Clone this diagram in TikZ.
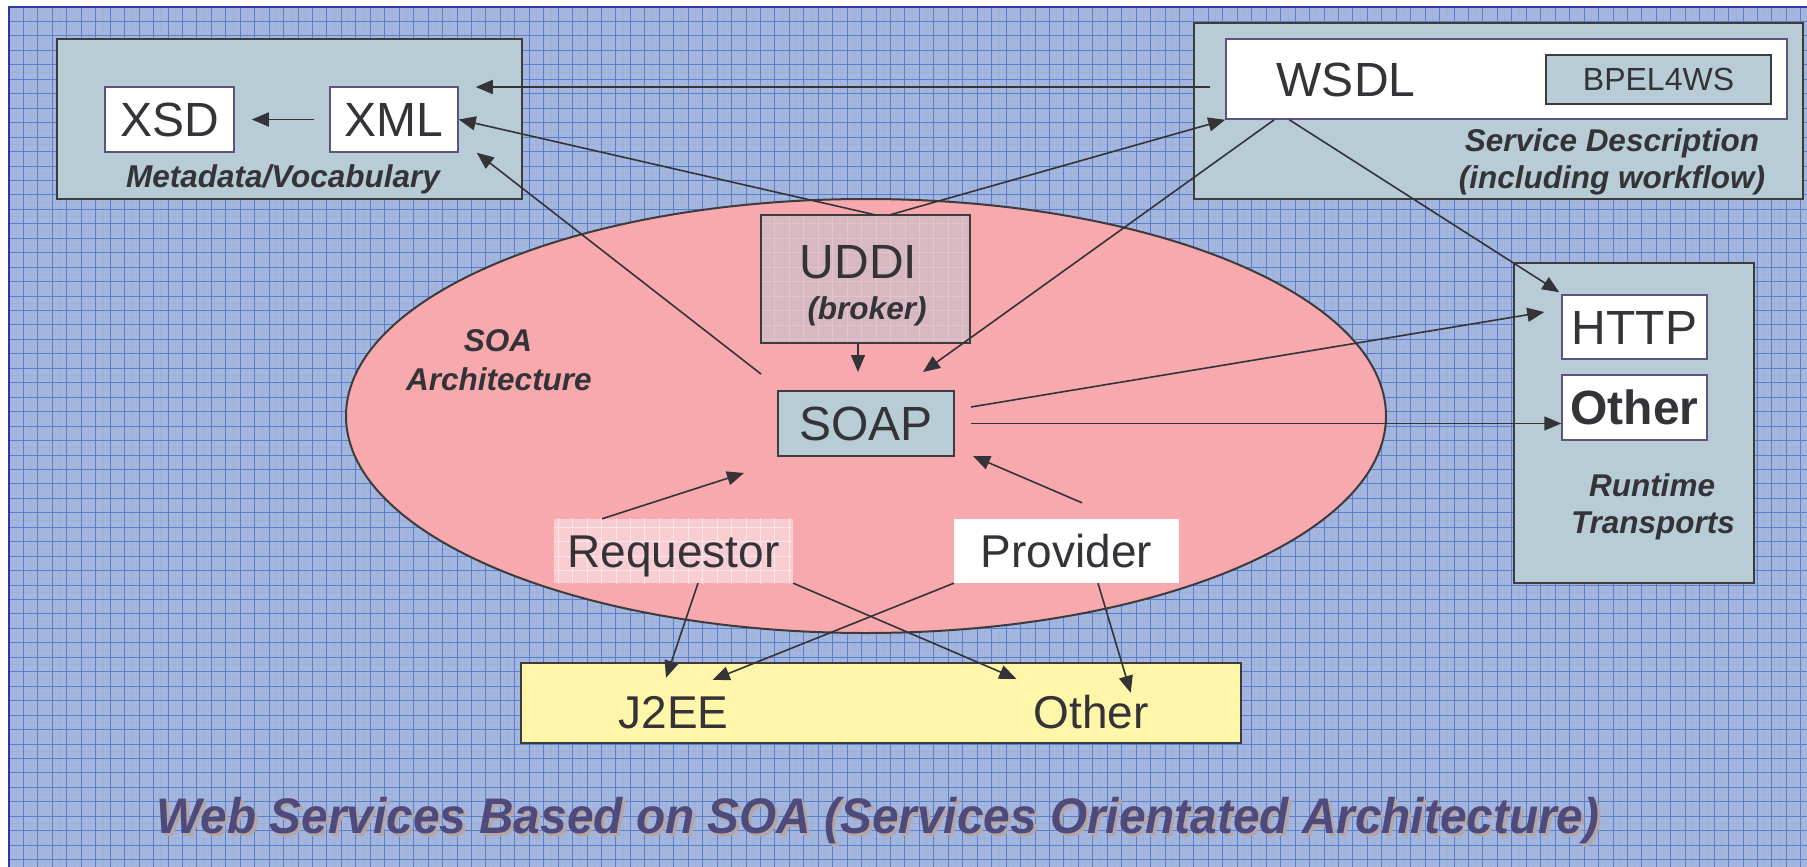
\documentclass[tikz,border=0pt]{standalone}
\usepackage{fontspec}
\setmainfont{Liberation Sans}
\usetikzlibrary{arrows.meta,shapes.geometric}
\definecolor{bgc}{HTML}{A4B6DE}
\definecolor{gridmaj}{HTML}{5A80CC}
\definecolor{gridmin}{HTML}{9DB1DC}
\definecolor{boxfill}{HTML}{B8CCD5}
\definecolor{boxline}{HTML}{3C3C3E}
\definecolor{wline}{HTML}{5C5480}
\definecolor{pinkc}{HTML}{F7A9AD}
\definecolor{uddic}{HTML}{D8B8C0}
\definecolor{uddig}{HTML}{DEC6CD}
\definecolor{reqc}{HTML}{F9CED3}
\definecolor{reqg}{HTML}{FCE6E9}
\definecolor{yellowc}{HTML}{FFF6AA}
\definecolor{txt}{HTML}{333338}
\definecolor{linec}{HTML}{333338}
\definecolor{titc}{HTML}{4F4A7C}
\definecolor{shadc}{HTML}{B4A6A6}
\definecolor{framec}{HTML}{3434A8}
\newcommand\bigf{\fontsize{48}{57}\selectfont}
\newcommand\midf{\fontsize{46}{55}\selectfont}
\newcommand\labf{\fontsize{31.5}{37}\selectfont\bfseries\itshape}
\newcommand\bpelf{\fontsize{32}{38}\selectfont}
\newcommand\titf{\fontsize{50}{60}\selectfont\bfseries\itshape}
\begin{document}
\begin{tikzpicture}[x=1pt,y=-1pt,
  gmaj/.style={draw=gridmaj, line width=0.9pt},
  gmin/.style={draw=gridmin, line width=0.5pt},
  cont/.style={draw=boxline, line width=2pt, fill=boxfill, inner sep=0pt},
  wbox/.style={draw=wline, line width=1.5pt, fill=white, inner sep=0pt, text=txt, text height=34pt, text depth=0pt, font=\bigf},
  plain/.style={inner sep=0pt, text=txt, text height=33pt, text depth=0pt, font=\midf},
  lab/.style={inner sep=0pt, anchor=base, text=txt, font=\labf},
  arr/.style={draw=linec, line width=1.6pt, -{Triangle[length=17pt,width=14pt]}},
  cline/.style={draw=linec, line width=1.6pt}]
\useasboundingbox (0,0) rectangle (1807,867);
% background
\fill[white] (0,0) rectangle (1807,867);
\fill[bgc] (9,7) rectangle (1807,867);
\foreach \i in {0,...,124} {\draw[gmin] ({9+14.45*\i+7.225},7) -- ({9+14.45*\i+7.225},867);}
\foreach \j in {0,...,59} {\draw[gmin] (9,{7+14.45*\j+7.225}) -- (1807,{7+14.45*\j+7.225});}
\foreach \i in {0,...,124} {\draw[gmaj] ({9+14.45*\i},7) -- ({9+14.45*\i},867);}
\foreach \j in {0,...,59} {\draw[gmaj] (9,{7+14.45*\j}) -- (1807,{7+14.45*\j});}
\draw[framec, line width=2pt] (9,867) -- (9,7) -- (1807,7);

% Metadata / Vocabulary
\node[cont, minimum width=465, minimum height=160] (meta) at (289.5,119) {};
\node[wbox, minimum width=129, minimum height=65] (xsd) at (169.5,119.5) {XSD};
\node[wbox, minimum width=128, minimum height=65] (xml) at (394,119.5) {XML};
\node[lab] (metalab) at (283,187) {Metadata/Vocabulary};

% Service description
\node[cont, minimum width=609, minimum height=176] (sd) at (1498.5,111) {};
\node[wbox, minimum width=561, minimum height=80] (wsdl) at (1506.5,79) {};
\node[inner sep=0pt, anchor=base, text=txt, font=\bigf] (wsdltxt) at (1346,96.7) {WSDL};
\node[cont, minimum width=225, minimum height=49, text=txt, font=\bpelf, text height=23pt, text depth=0pt] (bpel) at (1658.5,79.5) {BPEL4WS};
\node[lab] (sdlab1) at (1612,151.7) {Service Description};
\node[lab] (sdlab2) at (1612,188) {(including workflow)};

% Runtime transports
\node[cont, minimum width=240, minimum height=320] (rt) at (1634,423) {};
\node[wbox, minimum width=145, minimum height=64] (http) at (1634.5,327) {HTTP};
\node[wbox, minimum width=145, minimum height=65, font=\bigf\bfseries] (rtother) at (1634.5,407.5) {Other};
\node[lab] (rtlab1) at (1652,496) {Runtime};
\node[lab] (rtlab2) at (1653,533) {Transports};

% SOA ellipse
\node[ellipse, draw=boxline, line width=2pt, fill=pinkc, minimum width=1040, minimum height=434, inner sep=0pt] (soa) at (866,416) {};
\node[lab] (soalab1) at (498,351.7) {SOA};
\node[lab] (soalab2) at (499,390) {Architecture};

% UDDI
\node[fill=uddic, minimum width=209, minimum height=128, inner sep=0pt] (uddi) at (865.5,279) {};
\begin{scope}
\clip (uddi.north west) rectangle (uddi.south east);
\foreach \i in {50,...,70} {\draw[draw=uddig, line width=0.8pt] ({9+14.45*\i},7) -- ({9+14.45*\i},867);}
\foreach \j in {12,...,25} {\draw[draw=uddig, line width=0.8pt] (9,{7+14.45*\j}) -- (1807,{7+14.45*\j});}
\end{scope}
\draw[boxline, line width=2pt] (uddi.north west) rectangle (uddi.south east);
\node[inner sep=0pt, anchor=base, text=txt, font=\bigf] (uddit) at (858.5,278) {UDDI};
\node[lab] (broker) at (867,319) {(broker)};

% SOAP
\node[cont, minimum width=176, minimum height=65, text=txt, font=\bigf, text height=34pt, text depth=0pt] (soap) at (866,423.5) {SOAP};

% Requestor / Provider
\node[fill=reqc, minimum width=239, minimum height=64, inner sep=0pt] (req) at (673.5,551) {};
\begin{scope}
\clip (req.north west) rectangle (req.south east);
\foreach \i in {36,...,56} {\draw[draw=reqg, line width=0.8pt] ({9+14.45*\i},7) -- ({9+14.45*\i},867);}
\foreach \j in {34,...,41} {\draw[draw=reqg, line width=0.8pt] (9,{7+14.45*\j}) -- (1807,{7+14.45*\j});}
\end{scope}
\node[plain] (reqt) at (673.5,551) {Requestor};
\node[plain, fill=white, minimum width=225, minimum height=64] (prov) at (1066.5,551) {Provider};

% J2EE / Other
\node[cont, fill=yellowc, minimum width=720, minimum height=80] (plat) at (881,703) {};
\node[plain, anchor=base] (j2ee) at (673.5,728) {J2EE};
\node[plain, anchor=base] (oth) at (1091,728) {Other};

% Title
\node[inner sep=0pt, anchor=base, text=shadc, font=\titf] (titsh) at (881,836) {\scalebox{0.955}[1]{Web Services Based on SOA (Services Orientated Architecture)}};
\node[inner sep=0pt, anchor=base, text=titc, font=\titf] (title) at (878,833) {\scalebox{0.955}[1]{Web Services Based on SOA (Services Orientated Architecture)}};

% Connectors
\draw[arr] ([shift={(-15,8)}]wsdl.west) -- ([shift={(17,-32.5)}]xml.east);
\draw[arr] ([shift={(-15,0)}]xml.west) -- ([shift={(17,0)}]xsd.east);
\draw[arr] ([shift={(9.5,0)}]uddi.north) -- (xml.east);
\draw[arr] ([shift={(24.5,0)}]uddi.north) -- (wsdl.south west);
\draw[arr] ([shift={(-16,-16)}]soap.north west) -- ([shift={(18,0)}]xml.south east);
\draw[arr] ([shift={(-7.5,0)}]uddi.south) -- ([shift={(-8,-18)}]soap.north);
\draw[arr] ([shift={(49,0)}]wsdl.south west) -- ([shift={(57,-18)}]soap.north);
\draw[arr] ([shift={(64,0)}]wsdl.south west) -- ([shift={(-2,-2)}]http.north west);
\draw[arr] ([shift={(16,-16.5)}]soap.east) -- ([shift={(-17,-15)}]http.west);
\draw[arr] ([shift={(16,0)}]soap.east) -- (soap.east -| rtother.west);
\draw[arr] ([shift={(-71.5,0)}]req.north) -- ([shift={(-33,16)}]soap.south west);
\draw[arr] ([shift={(15.5,-16)}]prov.north) -- ([shift={(18,-1)}]soap.south east);
\draw[arr] ([shift={(24.5,0)}]req.south) -- ([shift={(-7.5,-17)}]j2ee.north);
\draw[arr] (req.south east) -- ([shift={(-17,-16)}]oth.north west);
\draw[arr] (prov.south west) -- ([shift={(-16,-15)}]j2ee.north east);
\draw[arr] ([shift={(31.5,0)}]prov.south) -- ([shift={(-18,-2)}]oth.north east);
\end{tikzpicture}
\end{document}
